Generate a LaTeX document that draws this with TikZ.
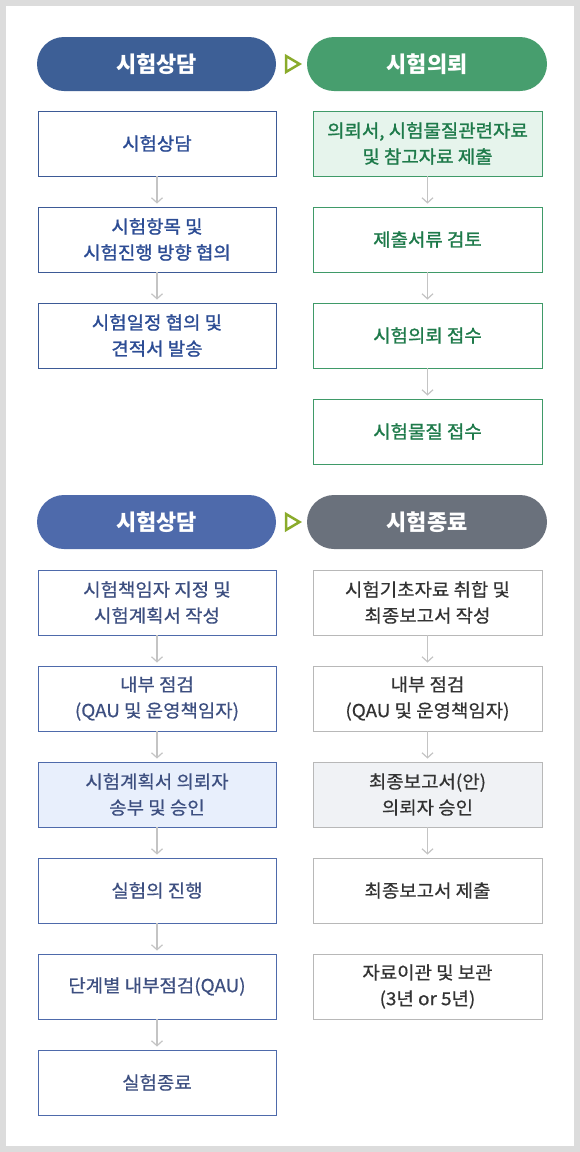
\documentclass[tikz,border=0pt]{standalone}
\usepackage{fontspec}
\setmainfont{Noto Sans CJK KR}
\newfontfamily\medA{Noto Sans CJK KR}[FakeBold=1.3,FakeStretch=1.05]
\newfontfamily\medB{Noto Sans CJK KR}[FakeBold=0.6,FakeStretch=1.05]
\usetikzlibrary{arrows.meta}
\definecolor{bggray}{HTML}{DCDCDC}
\definecolor{pillA}{HTML}{3D5F96}
\definecolor{pillB}{HTML}{479E6E}
\definecolor{pillC}{HTML}{4E6AAB}
\definecolor{pillD}{HTML}{6A717C}
\definecolor{tri}{HTML}{8AAB2B}
\definecolor{bA}{HTML}{3D5A96}
\definecolor{tA}{HTML}{2C4C94}
\definecolor{bB}{HTML}{3F9A68}
\definecolor{tB}{HTML}{1E7A4A}
\definecolor{fB}{HTML}{E6F4EC}
\definecolor{bC}{HTML}{4E6AAB}
\definecolor{tC}{HTML}{3D4F80}
\definecolor{fC}{HTML}{E8EFFC}
\definecolor{bD}{HTML}{B8B8B8}
\definecolor{tD}{HTML}{333333}
\definecolor{fD}{HTML}{F0F2F5}
\definecolor{arr}{HTML}{C4C4C4}
\begin{document}
\begin{tikzpicture}[x=1pt,y=-1pt,
  pill/.style={rounded corners=27pt,minimum height=54pt,inner sep=0pt,text=white,font=\fontsize{22}{26}\selectfont\bfseries},
  pillL/.style={pill,minimum width=239pt},
  pillR/.style={pill,minimum width=240pt},
  box/.style={draw,line width=0.9pt,minimum height=65pt,inner sep=0pt,align=center},
  boxL/.style={box,minimum width=238pt},
  boxR/.style={box,minimum width=229pt},
  sA/.style={draw=bA,text=tA,font=\medA\fontsize{18}{26}\selectfont},
  sB/.style={draw=bB,text=tB,font=\medA\fontsize{18}{26}\selectfont},
  sC/.style={draw=bC,text=tC,font=\medB\fontsize{18}{26}\selectfont},
  sD/.style={draw=bD,text=tD,font=\medB\fontsize{18}{26}\selectfont},
  flow/.style={draw=arr,line width=1.2pt,-{Straight Barb[length=5pt,width=11pt,line width=1.2pt]},shorten >=3pt}
]
\fill[bggray] (0,0) rectangle (580,1152);
\fill[white] (6,6) rectangle (574,1146);
\useasboundingbox (0,0) rectangle (580,1152);

% top section
\node[pillL,fill=pillA] (h1) at (156.5,64) {시험상담};
\node[pillR,fill=pillB] (h2) at (427,64) {시험의뢰};
\draw[tri,line width=2.5pt,line join=miter] (286,56) -- (286,72) -- (299.5,64) -- cycle;

\node[boxL,sA] (a1) at (157,143.5) {시험상담};
\node[boxL,sA] (a2) at (157,239.5) {시험항목 및\\시험진행 방향 협의};
\node[boxL,sA] (a3) at (157,335.5) {시험일정 협의 및\\견적서 발송};

\node[boxR,sB,fill=fB] (b1) at (427.5,143.5) {의뢰서, 시험물질관련자료\\및 참고자료 제출};
\node[boxR,sB] (b2) at (427.5,239.5) {제출서류 검토};
\node[boxR,sB] (b3) at (427.5,335.5) {시험의뢰 접수};
\node[boxR,sB] (b4) at (427.5,431.5) {시험물질 접수};

\draw[flow] (a1) -- (a2);
\draw[flow] (a2) -- (a3);
\draw[flow] (b1) -- (b2);
\draw[flow] (b2) -- (b3);
\draw[flow] (b3) -- (b4);

% bottom section
\node[pillL,fill=pillC] (h3) at (156.5,522) {시험상담};
\node[pillR,fill=pillD] (h4) at (427,522) {시험종료};
\draw[tri,line width=2.5pt,line join=miter] (286,514) -- (286,530) -- (299.5,522) -- cycle;

\node[boxL,sC] (c1) at (157,602.5) {시험책임자 지정 및\\시험계획서 작성};
\node[boxL,sC] (c2) at (157,698.5) {내부 점검\\(QAU 및 운영책임자)};
\node[boxL,sC,fill=fC] (c3) at (157,794.5) {시험계획서 의뢰자\\송부 및 승인};
\node[boxL,sC] (c4) at (157,890.5) {실험의 진행};
\node[boxL,sC] (c5) at (157,986.5) {단계별 내부점검(QAU)};
\node[boxL,sC] (c6) at (157,1082.5) {실험종료};

\node[boxR,sD] (d1) at (427.5,602.5) {시험기초자료 취합 및\\최종보고서 작성};
\node[boxR,sD] (d2) at (427.5,698.5) {내부 점검\\(QAU 및 운영책임자)};
\node[boxR,sD,fill=fD] (d3) at (427.5,794.5) {최종보고서(안)\\의뢰자 승인};
\node[boxR,sD] (d4) at (427.5,890.5) {최종보고서 제출};
\node[boxR,sD] (d5) at (427.5,986.5) {자료이관 및 보관\\(3년 or 5년)};

\draw[flow] (c1) -- (c2);
\draw[flow] (c2) -- (c3);
\draw[flow] (c3) -- (c4);
\draw[flow] (c4) -- (c5);
\draw[flow] (c5) -- (c6);
\draw[flow] (d1) -- (d2);
\draw[flow] (d2) -- (d3);
\draw[flow] (d3) -- (d4);
\end{tikzpicture}
\end{document}
